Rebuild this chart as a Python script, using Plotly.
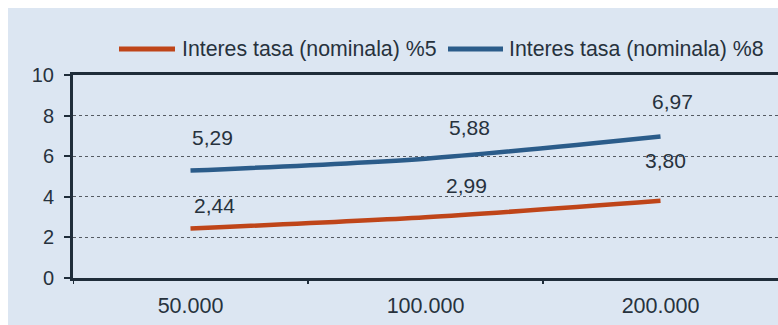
import plotly.graph_objects as go

# Loan amounts on the category axis
categories = ["50.000", "100.000", "200.000"]

# Series names and values
series_names = ["Interes tasa (nominala) %5", "Interes tasa (nominala) %8"]
rate5_values = [2.44, 2.99, 3.80]
rate8_values = [5.29, 5.88, 6.97]

# Y axis ticks
y_ticks = [0, 2, 4, 6, 8, 10]

W, H = 778, 325
ML, MR, MT, MB = 73, 0, 75, 47
PW, PH = W - ML - MR, H - MT - MB

RED = "#bf4519"
BLUE = "#2b5c8a"
TEXT = "#27323d"
AXIS = "#1f2d3a"
PANEL = "#dce6f2"
FONT = "Liberation Sans, Arial, sans-serif"


def px_x(px):
    return (px - ML) / PW


def px_y(py):
    return (H - MB - py) / PH


def fmt(v):
    return f"{v:.2f}".replace(".", ",")


fig = go.Figure()

series = [(series_names[0], rate5_values, RED), (series_names[1], rate8_values, BLUE)]
for name, vals, col in series:
    fig.add_trace(go.Scatter(
        x=categories, y=vals, name=name, mode="lines",
        line=dict(color=col, width=4.5, shape="spline", smoothing=0.8),
        showlegend=False, hoverinfo="skip",
    ))

# Value labels, nudged off the lines (x given as category index, since
# the dotted category names would otherwise be read as numbers)
label_shifts = [
    [(24, 23), (41, 32), (5, 40)],
    [(22, 33), (44, 31), (12, 35)],
]
for (name, vals, col), shifts in zip(series, label_shifts):
    for i, (v, (dx, dy)) in enumerate(zip(vals, shifts)):
        fig.add_annotation(
            xref="x", yref="y", x=i, y=v, text=fmt(v), showarrow=False,
            xshift=dx, yshift=dy,
            font=dict(family=FONT, size=21, color=TEXT),
        )

# Legend drawn as line samples + names
legend_items = [(119, 175, 180), (448, 503, 507)]
for (x0, x1, tx), (name, vals, col) in zip(legend_items, series):
    fig.add_shape(type="line", xref="paper", yref="paper",
                  x0=px_x(x0), x1=px_x(x1), y0=px_y(49), y1=px_y(49),
                  line=dict(color=col, width=5))
    fig.add_annotation(xref="paper", yref="paper", x=px_x(tx), y=px_y(49),
                       xanchor="left", yanchor="middle", text=name,
                       showarrow=False,
                       font=dict(family=FONT, size=21.3, color=TEXT))

# Light blue panel behind the chart
fig.add_shape(type="rect", xref="paper", yref="paper", layer="below",
              x0=px_x(8), x1=px_x(W + 5), y0=px_y(H + 5), y1=px_y(8),
              fillcolor=PANEL, line=dict(width=0))

# Category boundary ticks below the x axis (left edge and between categories)
for b in range(len(categories)):
    fig.add_shape(type="line", xref="x", yref="paper",
                  x0=b - 0.5, x1=b - 0.5, y0=0, y1=px_y(284),
                  line=dict(color=AXIS, width=2))

fig.update_layout(
    width=W, height=H,
    margin=dict(l=ML, r=MR, t=MT, b=MB),
    paper_bgcolor="white",
    plot_bgcolor="rgba(0,0,0,0)",
    font=dict(family=FONT, size=21, color=TEXT),
    showlegend=False,
)
fig.update_xaxes(
    type="category", range=[-0.5, 2.5],
    showline=True, linecolor=AXIS, linewidth=3, mirror=True,
    ticks="", showgrid=False, tickfont=dict(size=21.5, color=TEXT),
    ticklabelstandoff=6,
)
fig.update_yaxes(
    range=[0, 10], tickvals=y_ticks,
    showline=True, linecolor=AXIS, linewidth=3,
    ticks="outside", ticklen=6, tickwidth=2, tickcolor=AXIS,
    showgrid=True, gridcolor="#555b63", gridwidth=1, griddash="dot",
    zeroline=False, tickfont=dict(size=20, color=TEXT), ticklabelstandoff=6,
)

fig.write_html("out.html")
